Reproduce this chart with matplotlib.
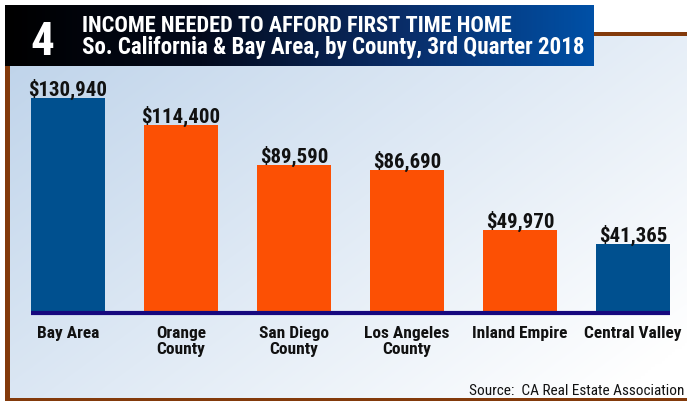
import numpy as np
import matplotlib
matplotlib.use("Agg")
import matplotlib.pyplot as plt
import matplotlib.transforms as mtransforms
from matplotlib.colors import LinearSegmentedColormap

# ---- data ----
categories = ["Bay Area", "Orange\nCounty", "San Diego\nCounty", "Los Angeles\nCounty",
              "Inland Empire", "Central Valley"]
incomes = [130940, 114400, 89590, 86690, 49970, 41365]
value_labels = ["$130,940", "$114,400", "$89,590", "$86,690", "$49,970", "$41,365"]
bar_colors = ["#00508f", "#fc5004", "#fc5004", "#fc5004", "#fc5004", "#00508f"]
title_number = "4"
title_line1 = "INCOME NEEDED TO AFFORD FIRST TIME HOME"
title_line2 = "So. California & Bay Area, by County, 3rd Quarter 2018"
source_text = "Source:  CA Real Estate Association"

FAM = ["Roboto Condensed", "DejaVu Sans"]

W, H = 687, 402
fig = plt.figure(figsize=(W / 100, H / 100), dpi=100)

# overlay axes in pixel coords (y downwards)
bg = fig.add_axes([0, 0, 1, 1])
bg.set_xlim(0, W)
bg.set_ylim(H, 0)
bg.axis("off")

# background gradient panel
nx, ny = 200, 120
gx = np.linspace(0, 1, nx)[None, :]
gy = np.linspace(0, 1, ny)[:, None]
t = np.clip(0.62 * gx + 0.45 * gy, 0, 1)
c0 = np.array([190, 211, 234]) / 255
c1 = np.array([255, 255, 255]) / 255
img = c0[None, None, :] * (1 - t[..., None]) + c1[None, None, :] * t[..., None]
bg.imshow(img, extent=(10, W, 400, 37), aspect="auto", zorder=0, interpolation="bilinear")

brown = "#833a0b"
# frame lines
bg.add_patch(plt.Rectangle((5, 60), 5, 342, color=brown, zorder=2, lw=0))
bg.add_patch(plt.Rectangle((5, 399), W, 3, color=brown, zorder=2, lw=0))
bg.add_patch(plt.Rectangle((590, 33), W - 590, 4, color=brown, zorder=2, lw=0))

# title box gradient
cmap = LinearSegmentedColormap.from_list("tb", ["#000000", "#030a1c", "#0a2c66", "#0050a6"])
grad = np.linspace(0, 1, 300)[None, :]
bg.imshow(grad, cmap=cmap, extent=(5, 594, 67, 6), aspect="auto", zorder=3)

bg.text(42, 55, title_number, color="white", fontsize=34, fontweight="bold",
        family=FAM, ha="center", va="baseline", zorder=4)
bg.text(82, 32, title_line1, color="white", fontsize=16.1, fontweight="bold",
        family=FAM, ha="left", va="baseline", zorder=4)
bg.text(82, 54, title_line2, color="white", fontsize=16.6, fontweight="bold",
        family=FAM, ha="left", va="baseline", zorder=4)
bg.text(684, 395, source_text, color="#111111", fontsize=11,
        family=FAM, ha="right", va="baseline", zorder=4)

# bar chart axes
left_px, right_px = 31, 670
base_px, top_px = 312, 99
ax = fig.add_axes([left_px / W, (H - base_px) / H, (right_px - left_px) / W, (base_px - top_px) / H])
ax.patch.set_alpha(0)
bw = 0.655
x = np.arange(len(categories))
ax.bar(x, incomes, width=bw, color=bar_colors, zorder=2)
ax.set_xlim(-bw / 2, len(categories) - 1 + bw / 2)
ax.set_ylim(0, max(incomes))
for s in ax.spines.values():
    s.set_visible(False)
ax.set_yticks([])
ax.set_xticks([])

trans = mtransforms.offset_copy(ax.transData, fig=fig, x=0, y=-2, units="dots")
ax.plot([-bw / 2, len(categories) - 1 + bw / 2], [0, 0], color="#16087e", lw=3.0,
        transform=trans, clip_on=False, solid_capstyle="butt", zorder=3)

for xi, v, lab in zip(x, incomes, value_labels):
    ax.annotate(lab, (xi, v), xytext=(0, 3), textcoords="offset pixels",
                ha="center", va="baseline", fontsize=15, fontweight="bold",
                family=FAM, color="#111111", annotation_clip=False)

for xi, cat in zip(x, categories):
    ax.annotate(cat, (xi, 0), xytext=(0, -14), textcoords="offset pixels",
                ha="center", va="top", fontsize=12.5, fontweight="bold",
                family=FAM, color="#111111", linespacing=1.1, annotation_clip=False)

fig.savefig("out.png", dpi=100)
